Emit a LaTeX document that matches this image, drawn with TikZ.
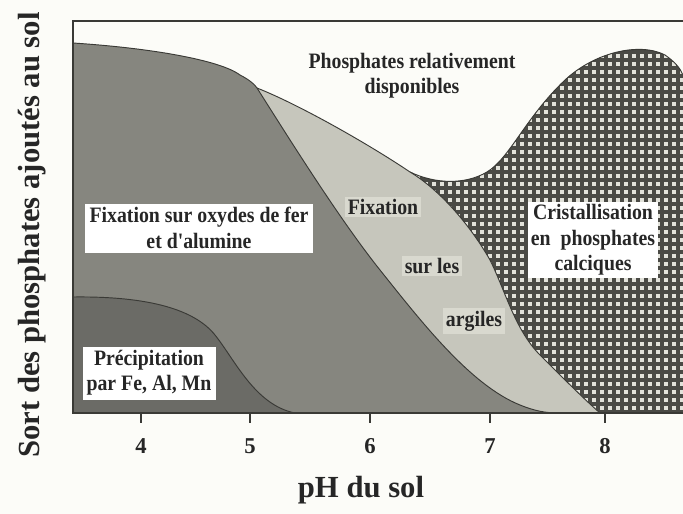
\documentclass[tikz,border=0pt]{standalone}
\usepackage{fontspec}
\setmainfont{Liberation Serif}
\newfontfamily\lblfont[FakeStretch=0.9]{Liberation Serif}
\definecolor{darkreg}{HTML}{6B6B66}
\definecolor{medreg}{HTML}{86867F}
\definecolor{lightreg}{HTML}{C6C6BC}
\definecolor{hatchbg}{HTML}{E2E2DA}
\definecolor{hatchln}{HTML}{4A4A45}
\definecolor{edgecol}{HTML}{3A3A36}
\definecolor{paper}{HTML}{FCFCF8}
\definecolor{labbg}{HTML}{D9D9CF}
\begin{document}
\begin{tikzpicture}[x=0.75pt,y=-0.75pt,
  lbl/.style={font=\lblfont\fontsize{16.5}{19}\selectfont\bfseries, align=center, inner sep=2pt, text=black!85},
  wbox/.style={lbl, fill=white},
  gbox/.style={lbl, fill=labbg},
  ticklbl/.style={font=\fontsize{17}{20}\selectfont\bfseries, text=black!85},
  axlbl/.style={font=\fontsize{23}{26}\selectfont\bfseries, text=black!85},
  regedge/.style={draw=edgecol, line width=0.7pt},
  hatchline/.style={hatchln, line width=2.5pt}]
\useasboundingbox (0,0) rectangle (683,514);
\fill[paper] (0,0) rectangle (683,514);
% hatched region (calcium phosphates)
\begin{scope}
  \clip (380,160) -- (410,172) .. controls (435,184) and (465,185) .. (487,172)
     .. controls (510,158) and (525,118) .. (565,80)
     .. controls (595,52) and (640,42) .. (665,55)
     .. controls (675,62) and (680,68) .. (683,75)
     -- (683,413) -- (380,413) -- cycle;
  \fill[hatchbg] (380,40) rectangle (683,413);
  \foreach \k in {0,...,38} \draw[hatchline] ({382+8*\k},40) -- ({382+8*\k},413);
  \foreach \k in {0,...,47} \draw[hatchline] (380,{44+8*\k}) -- (683,{44+8*\k});
\end{scope}
\draw[regedge] (410,172) .. controls (435,184) and (465,185) .. (487,172)
     .. controls (510,158) and (525,118) .. (565,80)
     .. controls (595,52) and (640,42) .. (665,55)
     .. controls (675,62) and (680,68) .. (683,75);
% light grey region (clays)
\filldraw[fill=lightreg, regedge] (257,88) .. controls (300,105) and (370,145) .. (410,172)
   .. controls (440,190) and (470,225) .. (490,260)
   .. controls (505,290) and (515,330) .. (540,355)
   .. controls (565,380) and (585,400) .. (600,413)
   -- (257,413) -- cycle;
% medium grey region (iron and aluminium oxides)
\filldraw[fill=medreg, regedge] (73,43) .. controls (150,48) and (220,60) .. (240,75)
   .. controls (250,80) and (255,85) .. (257,88)
   .. controls (290,140) and (340,220) .. (380,270)
   .. controls (420,320) and (470,385) .. (520,405)
   .. controls (535,411) and (545,413) .. (560,413)
   -- (73,413) -- cycle;
% dark grey region (precipitation)
\filldraw[fill=darkreg, regedge] (73,297) .. controls (150,296) and (195,310) .. (215,335)
   .. controls (235,360) and (255,405) .. (295,413)
   -- (73,413) -- cycle;
% frame
\draw[edgecol, line width=1.3pt] (683,21) -- (73,21) -- (73,413) -- (683,413);
% ticks and tick labels
\foreach \v/\px in {4/141,5/250,6/370,7/490,8/605}{
  \coordinate (tk\v) at (\px,413);
  \node[ticklbl] (t\v) at (\px,446) {\v};
  \draw[edgecol, line width=1.3pt] (tk\v) -- ++(0,10);
}
% axis titles
\node[axlbl] (xlab) at (361,490) {pH du sol};
\node[axlbl, rotate=90] (ylab) at (32,235) {Sort des phosphates ajoutés au sol};
% region labels
\node[lbl] (dispo) at (412,76) {Phosphates relativement\\disponibles};
\node[wbox, minimum width=228*0.75pt, minimum height=49*0.75pt] (oxy) at (199,228) {Fixation sur oxydes de fer\\et d'alumine};
\node[wbox, minimum width=133*0.75pt, minimum height=53*0.75pt] (preci) at (149,373) {Précipitation\\par Fe, Al, Mn};
\node[wbox, minimum width=129*0.75pt, minimum height=76*0.75pt] (crist) at (593,240) {Cristallisation\\en\ \ phosphates\\calciques};
\node[gbox] (fix) at (383,207) {Fixation};
\node[gbox] (sur) at (432,266) {sur les};
\node[gbox] (arg) at (474,321) {argiles};
\end{tikzpicture}
\end{document}
